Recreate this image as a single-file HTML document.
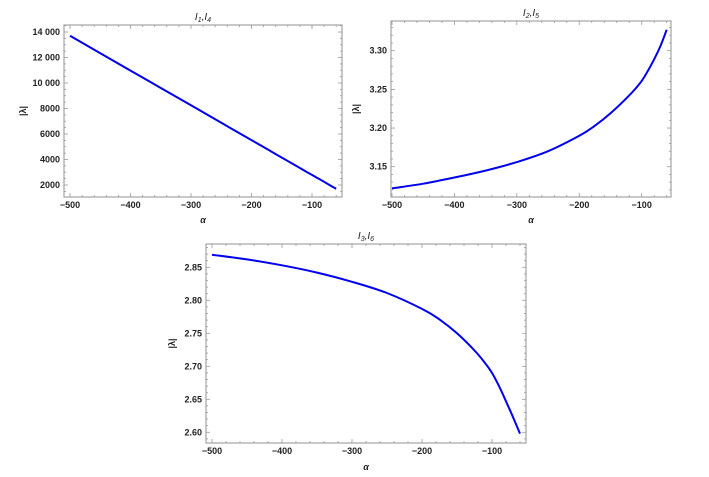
<!DOCTYPE html>
<html><head><meta charset="utf-8"><style>
body{margin:0;background:#fff;width:709px;height:477px;overflow:hidden}
svg{display:block;font-family:"Liberation Sans",sans-serif}
.t{font-size:9px;font-weight:bold;fill:#222}
</style></head><body>
<svg id="c" width="709" height="477"></svg>
<script>
const xTicks=[-500,-400,-300,-200,-100];
const alpha=[-500,-450,-400,-350,-300,-250,-200,-175,-150,-125,-110,-100,-90,-80,-70,-60];
const p1Values=[13700,12340,10970,9610,8250,6880,5520,4840,4150,3470,3060,2790,2520,2250,1970,1700];
const p1Ticks=[2000,4000,6000,8000,10000,12000,14000];
const p1Labels=["2000","4000","6000","8000","10 000","12 000","14 000"];
const p2Values=[3.122,3.128,3.136,3.145,3.156,3.170,3.19,3.203,3.219,3.238,3.251,3.261,3.274,3.289,3.306,3.327];
const p2Ticks=[3.15,3.20,3.25,3.30];
const p2Labels=["3.15","3.20","3.25","3.30"];
const p3Values=[2.869,2.862,2.853,2.842,2.828,2.811,2.787,2.771,2.750,2.724,2.705,2.690,2.670,2.647,2.623,2.598];
const p3Ticks=[2.60,2.65,2.70,2.75,2.80,2.85];
const p3Labels=["2.60","2.65","2.70","2.75","2.80","2.85"];
const NS="http://www.w3.org/2000/svg";
const svg=document.getElementById('c');
function mk(tag,at,parent){const e=document.createElementNS(NS,tag);for(const k in at)e.setAttribute(k,at[k]);(parent||svg).appendChild(e);return e;}
function smooth(pts){
 let d='M'+pts[0][0].toFixed(1)+','+pts[0][1].toFixed(1);
 for(let i=0;i<pts.length-1;i++){
  const p0=pts[Math.max(0,i-1)],p1=pts[i],p2=pts[i+1],p3=pts[Math.min(pts.length-1,i+2)];
  const c1=[p1[0]+(p2[0]-p0[0])/6,p1[1]+(p2[1]-p0[1])/6];
  const c2=[p2[0]-(p3[0]-p1[0])/6,p2[1]-(p3[1]-p1[1])/6];
  d+=` C${c1[0].toFixed(1)},${c1[1].toFixed(1)} ${c2[0].toFixed(1)},${c2[1].toFixed(1)} ${p2[0].toFixed(1)},${p2[1].toFixed(1)}`;
 }
 return d;
}
function plot(cfg){
 const g=mk('g',{});
 
 
 const sx=v=>cfg.x0px+(v-(-500))*(cfg.x1px-cfg.x0px)/400;
 const sy=v=>cfg.ya.px+(v-cfg.ya.v)*(cfg.yb.px-cfg.ya.px)/(cfg.yb.v-cfg.ya.v);
 const f=cfg.frame;
 const fr=mk('rect',{x:f[0],y:f[1],width:f[2]-f[0],height:f[3]-f[1],fill:'none',stroke:'#aaa','stroke-width':1.3},g);
 
 
 for(let v=-500;v<=-60;v+=20){const X=sx(v);const maj=v%100===0;const L=maj?4:2;
  mk('line',{x1:X,y1:f[3],x2:X,y2:f[3]-L,stroke:'#999','stroke-width':0.8},g);
  mk('line',{x1:X,y1:f[1],x2:X,y2:f[1]+L,stroke:'#999','stroke-width':0.8},g);}
 xTicks.forEach(v=>{const t=mk('text',{x:sx(v),y:f[3]+11,'text-anchor':'middle',class:'t'},g);t.textContent='\u2212'+Math.abs(v);
  
  });
 const step=cfg.minor;
 const lo=Math.min(cfg.ya.v,cfg.yb.v)-cfg.major*2,hi=Math.max(cfg.ya.v,cfg.yb.v)+cfg.major*2;
 for(let k=Math.ceil(lo/step);k*step<=hi;k++){const v=k*step;const Y=sy(v);if(Y<f[1]||Y>f[3])continue;
  const maj=Math.abs(v/cfg.major-Math.round(v/cfg.major))<1e-6;const L=maj?4:2;
  mk('line',{x1:f[0],y1:Y,x2:f[0]+L,y2:Y,stroke:'#999','stroke-width':0.8},g);
  mk('line',{x1:f[2],y1:Y,x2:f[2]-L,y2:Y,stroke:'#999','stroke-width':0.8},g);}
 cfg.yt.forEach((v,i)=>{const t=mk('text',{x:f[0]-4,y:sy(v)+3,'text-anchor':'end',class:'t'},g);t.textContent=cfg.yl[i];
  
  });
 const pts=alpha.map((a,i)=>[sx(a),sy(cfg.vals[i])]);
 const p=mk('path',{d:smooth(pts),fill:'none',stroke:'#0000ee','stroke-width':2},g);
 
 
 const yl=mk('text',{x:0,y:0,'text-anchor':'middle',class:'t',transform:`translate(${cfg.ylx},${(f[1]+f[3])/2}) rotate(-90)`},g);yl.textContent='|\u03bb|';
 
 
 const xl=mk('text',{x:(f[0]+f[2])/2,y:cfg.xly,'text-anchor':'middle',class:'t','font-style':'italic'},g);xl.textContent='\u03b1';
 
 
 const tt=mk('text',{x:(f[0]+f[2])/2,y:f[1]-5,'text-anchor':'middle',style:'font-size:10px;font-style:italic;fill:#222'},g);
 tt.innerHTML=`I<tspan font-size="7" dy="2">${cfg.s1}</tspan><tspan dy="-2">,I</tspan><tspan font-size="7" dy="2">${cfg.s2}</tspan>`;
 
 
}
plot({name:'plot-i1-i4',frame:[64,25,342,197],x0px:70,x1px:312,ya:{v:2000,px:185},yb:{v:14000,px:32},major:2000,minor:500,yt:p1Ticks,yl:p1Labels,vals:p1Values,ylx:26,xly:223,s1:1,s2:4});
plot({name:'plot-i2-i5',frame:[391,21,671,197],x0px:392,x1px:641.7,ya:{v:3.15,px:166.7},yb:{v:3.30,px:50.7},major:0.05,minor:0.01,yt:p2Ticks,yl:p2Labels,vals:p2Values,ylx:359,xly:223,s1:2,s2:5});
plot({name:'plot-i3-i6',frame:[206,244,526,443],x0px:212,x1px:492,ya:{v:2.60,px:432.3},yb:{v:2.85,px:267.3},major:0.05,minor:0.01,yt:p3Ticks,yl:p3Labels,vals:p3Values,ylx:175,xly:470,s1:3,s2:6});
</script>
</body></html>
